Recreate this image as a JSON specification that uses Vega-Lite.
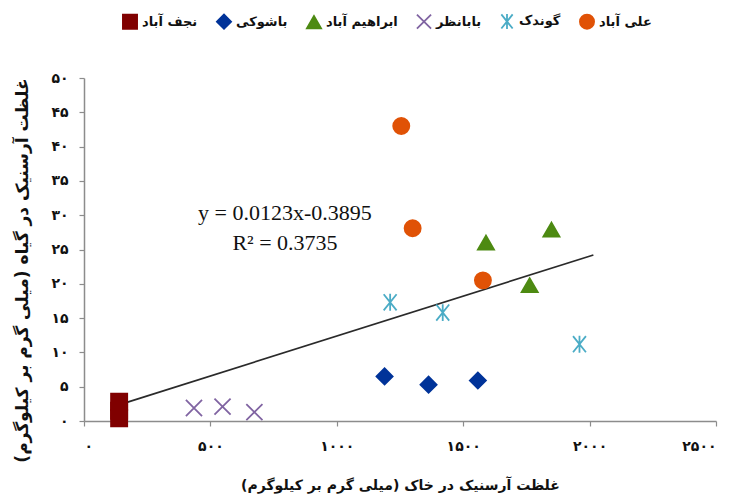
{
  "$schema": "https://vega.github.io/schema/vega-lite/v6.json",
  "autosize": "none",
  "width": 632,
  "height": 343,
  "padding": {"left": 84, "top": 78, "right": 16, "bottom": 78},
  "background": "white",
  "config": {
    "view": {"stroke": null},
    "axis": {
      "grid": false,
      "domainColor": "#8c8c8c",
      "domainWidth": 1.5,
      "tickColor": "#8c8c8c",
      "tickWidth": 1.2,
      "tickSize": 5,
      "labelFont": "DejaVu Sans",
      "labelFontWeight": "bold",
      "labelFontSize": 14,
      "labelColor": "#111",
      "titleFont": "DejaVu Sans",
      "titleFontWeight": "bold",
      "titleFontSize": 14,
      "titleColor": "#111"
    },
    "legend": {
      "labelFont": "DejaVu Sans",
      "labelFontWeight": "bold",
      "labelFontSize": 13,
      "labelColor": "#111"
    }
  },
  "encoding": {
    "x": {
      "field": "x", "type": "quantitative",
      "scale": {"domain": [0, 2500], "nice": false, "zero": true},
      "axis": {
        "title": "غلظت آرسنیک در خاک (میلی گرم بر کیلوگرم)",
        "values": [0, 500, 1000, 1500, 2000, 2500],
        "labelPadding": 13,
        "titlePadding": 25,
        "labelExpr": "replace(replace(replace(replace(replace(replace(format(datum.value,'d'),regexp('0','g'),'۰'),regexp('1','g'),'۱'),regexp('2','g'),'۲'),regexp('3','g'),'۳'),regexp('4','g'),'۴'),regexp('5','g'),'۵')"
      }
    },
    "y": {
      "field": "y", "type": "quantitative",
      "scale": {"domain": [0, 50], "nice": false},
      "axis": {
        "title": "غلظت آرسنیک در گیاه (میلی گرم بر کیلوگرم)",
        "titleFontSize": 17,
        "titleY": 192,
        "values": [0, 5, 10, 15, 20, 25, 30, 35, 40, 45, 50],
        "labelPadding": 11,
        "titlePadding": 19,
        "labelExpr": "replace(replace(replace(replace(replace(replace(format(datum.value,'d'),regexp('0','g'),'۰'),regexp('1','g'),'۱'),regexp('2','g'),'۲'),regexp('3','g'),'۳'),regexp('4','g'),'۴'),regexp('5','g'),'۵')"
      }
    }
  },
  "layer": [
    {
      "data": {"values": [{"x": 160, "y": 2.6}, {"x": 2015, "y": 24.2}]},
      "mark": {"type": "line", "color": "#2a2a2a", "strokeWidth": 1.7}
    },
    {
      "data": {"values": [
        {"site": "علی آباد", "x": 1255, "y": 43.0},
        {"site": "علی آباد", "x": 1300, "y": 28.1},
        {"site": "علی آباد", "x": 1578, "y": 20.5},
        {"site": "ابراهیم آباد", "x": 1590, "y": 26.0},
        {"site": "ابراهیم آباد", "x": 1849, "y": 27.9},
        {"site": "ابراهیم آباد", "x": 1763, "y": 19.8},
        {"site": "گوندک", "x": 1211, "y": 17.3},
        {"site": "گوندک", "x": 1419, "y": 15.8},
        {"site": "گوندک", "x": 1960, "y": 11.2},
        {"site": "باشوکی", "x": 1189, "y": 6.5},
        {"site": "باشوکی", "x": 1363, "y": 5.3},
        {"site": "باشوکی", "x": 1558, "y": 5.9},
        {"site": "بابانظر", "x": 435, "y": 1.9},
        {"site": "بابانظر", "x": 548, "y": 2.1},
        {"site": "بابانظر", "x": 674, "y": 1.3},
        {"site": "نجف آباد", "x": 139, "y": 2.8},
        {"site": "نجف آباد", "x": 139, "y": 1.5},
        {"site": "نجف آباد", "x": 139, "y": 0.4}
      ]},
      "mark": {"type": "point", "size": 260, "strokeWidth": 1.8, "opacity": 1},
      "encoding": {
        "color": {
          "field": "site", "type": "nominal",
          "scale": {
            "domain": ["نجف آباد", "باشوکی", "ابراهیم آباد", "بابانظر", "گوندک", "علی آباد"],
            "range": ["#800000", "#003399", "#4D8A12", "#8064A2", "#4BACC6", "#E05206"]
          },
          "legend": {
            "title": null,
            "orient": "none",
            "direction": "horizontal",
            "legendX": 38,
            "legendY": -65,
            "columnPadding": 15,
            "symbolSize": 200,
            "symbolStrokeWidth": 1.8,
            "symbolOpacity": 1
          }
        },
        "fill": {
          "field": "site", "type": "nominal",
          "scale": {
            "domain": ["نجف آباد", "باشوکی", "ابراهیم آباد", "بابانظر", "گوندک", "علی آباد"],
            "range": ["#800000", "#003399", "#4D8A12", "#8064A2", "#4BACC6", "#E05206"]
          },
          "legend": {
            "title": null,
            "orient": "none",
            "direction": "horizontal",
            "legendX": 38,
            "legendY": -65,
            "columnPadding": 15,
            "symbolSize": 200,
            "symbolStrokeWidth": 1.8,
            "symbolOpacity": 1
          }
        },
        "shape": {
          "field": "site", "type": "nominal",
          "scale": {
            "domain": ["نجف آباد", "باشوکی", "ابراهیم آباد", "بابانظر", "گوندک", "علی آباد"],
            "range": ["square", "diamond", "triangle-up", "M-1,-1L1,1M1,-1L-1,1", "M-0.8,-1L0.8,1M0.8,-1L-0.8,1M0,-1.05L0,1.05", "circle"]
          },
          "legend": {
            "title": null,
            "orient": "none",
            "direction": "horizontal",
            "legendX": 38,
            "legendY": -65,
            "columnPadding": 15,
            "symbolSize": 200,
            "symbolStrokeWidth": 1.8,
            "symbolOpacity": 1
          }
        }
      }
    },
    {
      "data": {"values": [
        {"label": "y = 0.0123x-0.3895", "x": 795, "y": 30.3},
        {"label": "R² = 0.3735", "x": 795, "y": 25.9}
      ]},
      "mark": {"type": "text", "font": "Liberation Serif", "fontSize": 22, "color": "#111", "align": "center", "baseline": "middle"},
      "encoding": {"text": {"field": "label"}}
    }
  ]
}
